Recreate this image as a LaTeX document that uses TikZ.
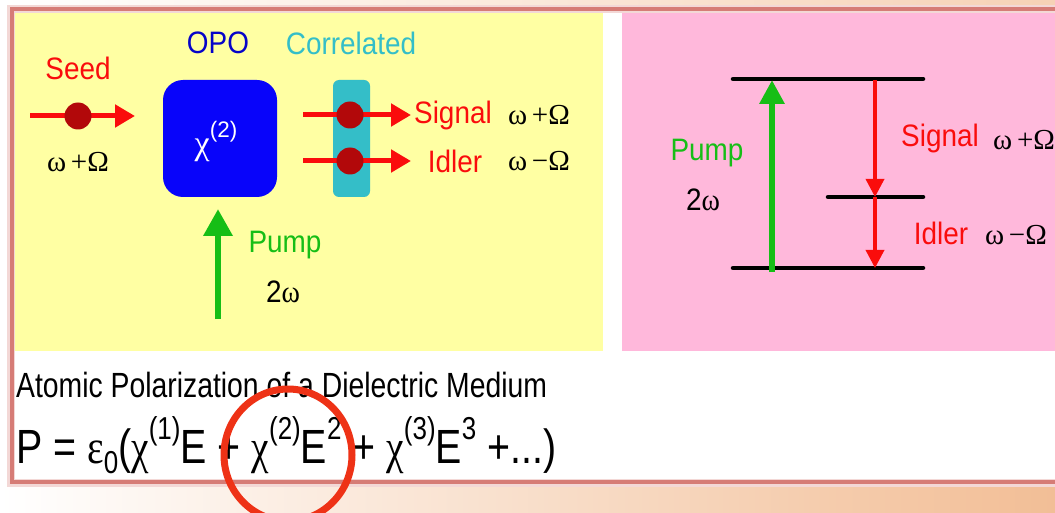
\documentclass[tikz,border=0pt]{standalone}
\usepackage{fontspec}
\setmainfont{Liberation Sans}
\newfontfamily\grk{Liberation Serif}
\usepackage{graphicx}
\usetikzlibrary{arrows.meta,positioning}
\definecolor{panelyellow}{RGB}{255,255,163}
\definecolor{panelpink}{RGB}{255,184,219}
\definecolor{beamred}{RGB}{250,12,12}
\definecolor{dotred}{RGB}{178,8,10}
\definecolor{opoblue}{RGB}{8,4,250}
\definecolor{corrteal}{RGB}{52,190,200}
\definecolor{pumpgreen}{RGB}{22,190,22}
\definecolor{framered}{RGB}{214,124,118}
\definecolor{ringred}{RGB}{238,50,22}
\definecolor{peach}{RGB}{242,190,150}
\newcommand\gk[1]{{\grk #1}}
\newcommand\upidx[1]{\raisebox{.5em}{\scalebox{.66}{#1}}}
\newcommand\dnidx[1]{\raisebox{-.22em}{\scalebox{.66}{#1}}}

\begin{document}
\begin{tikzpicture}[x=1pt,y=-1pt,
        lbl/.style={font=\fontsize{31}{36}\selectfont, xscale=0.9, inner sep=0pt},
        frq/.style={font=\grk\fontsize{29}{32}\selectfont, inner sep=0pt},
        beam/.style={-{Triangle[length=20pt,width=22pt]}, line width=5pt, draw=beamred},
        pumpbeam/.style={-{Triangle[length=27pt,width=28pt]}, line width=6.5pt, draw=pumpgreen},
        dot/.style={circle, fill=dotred, minimum size=27pt, inner sep=0pt},
        lvl/.style={line width=4.5pt, line cap=round, black}
      ]
      \useasboundingbox (0,0) rectangle (1055,513);
      \clip (0,0) rectangle (1055,513);
      \fill[white] (0,0) rectangle (1055,513);
      \shade[left color=white, right color=peach] (0,483) rectangle (1055,513);
      \shade[left color=white, right color=peach!70] (0,0) rectangle (1055,10);

      \fill[panelyellow] (14,12) rectangle (603,351);
      \fill[panelpink] (622,12) rectangle (1055,351);
      \draw[framered!30, line width=8pt] (11,9) rectangle (1070,483);
      \draw[framered, line width=4.5pt] (12,9) rectangle (1070,482);

      \node[lbl, text=beamred] (seed) at (78,68) {Seed};
      \coordinate (seedin) at (30,116);
      \coordinate (seedout) at (135,116);
      \draw[beam] (seedin) -- (seedout);
      \node[dot] (seeddot) at (78,116) {};
      \node[frq] (seedfrq) at (78,162) {ω\,+Ω};

      \node[lbl, text=opoblue!80!black] (opolbl) at (218,43) {OPO};
      \node[fill=opoblue, rounded corners=20pt, minimum width=114pt, minimum height=117pt] (opo) at (220,138.5) {};
      \node[text=white, font=\grk\fontsize{34}{36}\selectfont, inner sep=0pt] (chi) at (216,141) {χ\upidx{\fontspec{Liberation Sans}(2)}};

      \node[lbl, text=corrteal] (corrlbl) at (351,43) {Correlated};
      \node[fill=corrteal, rounded corners=6pt, minimum width=37pt, minimum height=117pt] (corr) at (351.5,138.5) {};
      \coordinate (sigin) at (303,115);
      \coordinate (sigout) at (411,115);
      \coordinate (idlin) at (303,161);
      \coordinate (idlout) at (411,161);
      \draw[beam] (sigin) -- (sigout);
      \draw[beam] (idlin) -- (idlout);
      \node[dot] (sigdot) at (350,115) {};
      \node[dot] (idldot) at (350,161) {};
      \node[lbl, text=beamred, anchor=west] (sig) at (414,115) {Signal};
      \node[frq] (sigfrq) at (539,115) {ω\,+Ω};
      \node[lbl, text=beamred] (idl) at (455,161) {Idler};
      \node[frq] (idlfrq) at (539,161) {ω\,−Ω};

      \coordinate (pumpin) at (218,319);
      \coordinate (pumptip) at (218,209);
      \draw[pumpbeam] (pumpin) -- (pumptip);
      \node[lbl, text=pumpgreen] (pump) at (285,245) {Pump};
      \node[lbl] (pumpfrq) at (283,292) {2\gk{ω}};

      \draw[lvl] (733,79) -- (923,79);
      \draw[lvl] (828,197) -- (923,197);
      \draw[lvl] (733,268) -- (923,268);
      \coordinate (gbot) at (772,272);
      \coordinate (gtop) at (772,80);
      \coordinate (rtop) at (875,80);
      \coordinate (rmid) at (875,197);
      \coordinate (rbot) at (875,268);
      \draw[pumpbeam, -{Triangle[length=24pt,width=24pt]}, line width=6pt] (gbot) -- (gtop);
      \draw[beam, -{Triangle[length=18pt,width=18pt]}, line width=3.5pt] (rtop) -- (rmid);
      \draw[beam, -{Triangle[length=18pt,width=18pt]}, line width=3.5pt] (rmid) -- (rbot);
      \node[lbl, text=pumpgreen] (pumpr) at (707,153) {Pump};
      \node[lbl] (pumprfrq) at (703,200) {2\gk{ω}};
      \node[lbl, text=beamred] (sigr) at (940,138) {Signal};
      \node[frq, anchor=west] (sigrfrq) at (993,140) {ω\,+Ω};
      \node[lbl, text=beamred] (idlr) at (941,233) {Idler};
      \node[frq] (idlrfrq) at (1016,235) {ω\,−Ω};

      \node[lbl, font=\fontsize{35}{40}\selectfont, xscale=0.9, anchor=west] (title) at (16,385) {Atomic Polarization of a Dielectric Medium};
      \node[font=\fontsize{48}{54}\selectfont, xscale=0.82, inner sep=0pt, anchor=base west] (eqn) at (16,463)
        {P = \gk{ε}\dnidx{0}(\gk{χ}\upidx{(1)}E + \gk{χ}\upidx{(2)}E\upidx{2} + \gk{χ}\upidx{(3)}E\upidx{3} +...)};
      \draw[ringred, line width=7pt] (288,455) ellipse (64 and 66);
\end{tikzpicture}
\end{document}
